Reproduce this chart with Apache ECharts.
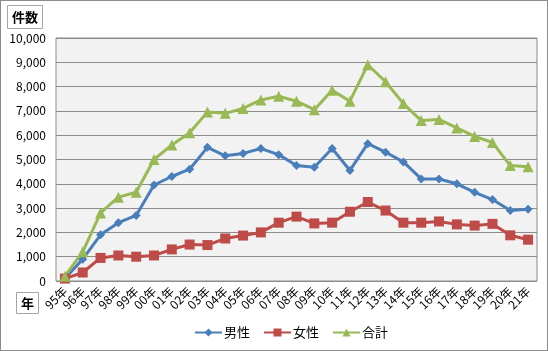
<!DOCTYPE html>
<html>
<head>
<meta charset="utf-8">
<script src="https://cdn.jsdelivr.net/npm/echarts@6/dist/echarts.min.js"></script>
<style>
  html, body { margin: 0; padding: 0; background: #fff; }
  #chart { width: 546px; height: 349px; border: 1px solid #8c8c8c; }
</style>
</head>
<body>
<div id="chart"></div>
<script>
const years = ['95年', '96年', '97年', '98年', '99年', '00年', '01年', '02年', '03年', '04年', '05年', '06年', '07年', '08年', '09年', '10年', '11年', '12年', '13年', '14年', '15年', '16年', '17年', '18年', '19年', '20年', '21年'];
const male = [100, 900, 1900, 2400, 2700, 3950, 4300, 4600, 5500, 5150, 5250, 5450, 5200, 4750, 4680, 5450, 4550, 5650, 5300, 4900, 4200, 4200, 4000, 3650, 3350, 2900, 2950];
const female = [100, 350, 950, 1050, 1000, 1050, 1300, 1500, 1480, 1750, 1870, 2000, 2400, 2650, 2370, 2400, 2850, 3250, 2900, 2400, 2400, 2450, 2330, 2280, 2350, 1880, 1700];
const total = [200, 1200, 2800, 3450, 3650, 5000, 5600, 6100, 6950, 6900, 7100, 7450, 7600, 7400, 7050, 7850, 7400, 8900, 8200, 7300, 6600, 6650, 6300, 5950, 5700, 4750, 4700];

const FONT = '"Noto Sans CJK JP", sans-serif';

function serie(name, data, color, symbol, size) {
  return {
    name,
    type: 'line',
    data,
    symbol,
    symbolSize: size,
    lineStyle: { color, width: 3 },
    itemStyle: { color },
    z: 3
  };
}

const chart = echarts.init(document.getElementById('chart'), null, { renderer: 'canvas' });
chart.setOption({
  animation: false,
  textStyle: { fontFamily: FONT },
  grid: {
    left: 55, right: 10, top: 37, bottom: 69,
    show: true, backgroundColor: '#f2f2f2', borderColor: '#8c8c8c', borderWidth: 1
  },
  legend: {
    bottom: 6,
    left: 188,
    itemWidth: 27,
    itemHeight: 10,
    itemGap: 13,
    textStyle: { fontFamily: FONT, fontSize: 13, color: '#000', padding: [0, 0, 0, -3] },
    data: ['男性', '女性', '合計']
  },
  graphic: [
    {
      type: 'group', left: 6, top: 4,
      children: [
        { type: 'rect', shape: { x: 0, y: 0, width: 35, height: 23 }, style: { fill: '#fff', stroke: '#a6a6a6', lineWidth: 1 } },
        { type: 'text', x: 17.5, y: 11.5, style: { text: '件数', font: 'bold 13px ' + FONT, fill: '#000', align: 'center', verticalAlign: 'middle' } }
      ]
    },
    {
      type: 'group', left: 15, top: 291,
      children: [
        { type: 'rect', shape: { x: 0, y: 0, width: 22, height: 21 }, style: { fill: '#fff', stroke: '#a6a6a6', lineWidth: 1 } },
        { type: 'text', x: 11, y: 10.5, style: { text: '年', font: 'bold 13px ' + FONT, fill: '#000', align: 'center', verticalAlign: 'middle' } }
      ]
    }
  ],
  xAxis: {
    type: 'category',
    data: years,
    boundaryGap: true,
    axisLine: { show: false },
    axisTick: { show: false },
    axisLabel: { rotate: 45, fontSize: 12, color: '#000', margin: 8, interval: 0, fontFamily: FONT }
  },
  yAxis: {
    type: 'value',
    min: 0,
    max: 10000,
    interval: 1000,
    axisLine: { show: false },
    axisTick: { show: false },
    axisLabel: {
      fontSize: 12, color: '#000', margin: 10, fontFamily: FONT,
      formatter: (v) => v.toLocaleString('en-US')
    },
    splitLine: { lineStyle: { color: '#8c8c8c', width: 1 } }
  },
  series: [
    serie('男性', male, '#4a7ebb', 'diamond', 9),
    serie('女性', female, '#be4b48', 'rect', 10),
    serie('合計', total, '#98b954', 'triangle', 11)
  ]
});
</script>
</body>
</html>
